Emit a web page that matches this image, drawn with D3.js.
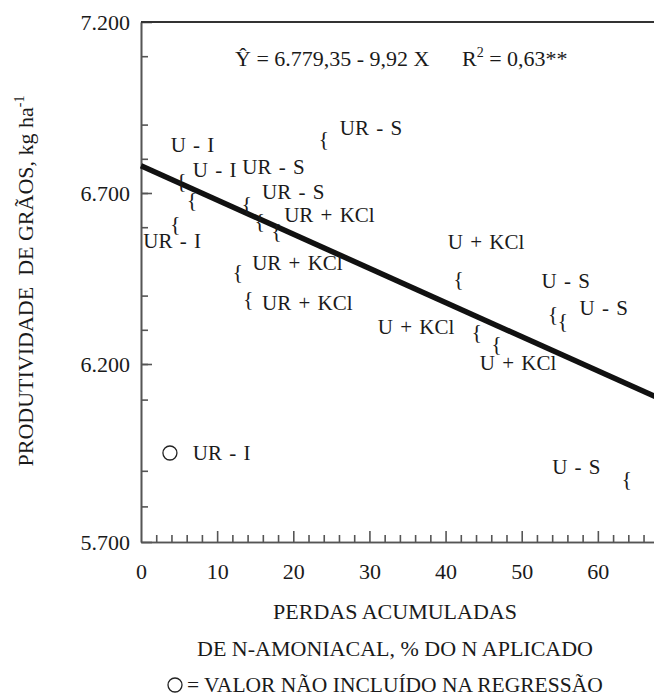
<!DOCTYPE html>
<html>
<head>
<meta charset="utf-8">
<script src="https://cdn.jsdelivr.net/npm/d3@7"></script>
<style>
body { margin: 0; background: #fff; }
svg text { font-family: 'Liberation Serif', 'Times New Roman', serif; fill: #1a1a1a; }
</style>
</head>
<body>
<svg width="654" height="696"></svg>
<script>
const svg = d3.select('svg').style('font-family', "'Liberation Serif', 'Times New Roman', serif");

// N losses (%) and grain yield (kg/ha) for each treatment
const pointX = [5.3, 6.7, 4.5, 13.9, 15.6, 17.8, 12.7, 14.1, 24.0, 41.7, 44.1, 46.7, 54.1, 55.4, 63.8];
const pointY = [6733, 6675, 6606, 6665, 6616, 6587, 6466, 6387, 6855, 6446, 6291, 6256, 6343, 6323, 5874];

// value left out of the regression
const outX = [3.8];
const outY = [5950];

// treatment labels (placed in data units)
const labelText = ['U - I', 'U - I', 'UR - I', 'UR - S', 'UR - S', 'UR + KCl', 'UR + KCl', 'UR + KCl',
    'UR - S', 'U + KCl', 'U + KCl', 'U + KCl', 'U - S', 'U - S', 'U - S', 'UR - I'];
const labelX = [3.9, 6.8, 0.3, 13.3, 15.9, 18.8, 14.6, 15.9, 26.1, 40.3, 31.1, 44.5, 52.6, 57.6, 54.0, 6.8];
const labelY = [6820, 6747, 6538, 6756, 6682, 6615, 6475, 6358, 6870, 6536, 6288, 6183, 6422, 6343, 5891, 5930];

const xTicks = [0, 10, 20, 30, 40, 50, 60];
const yTicks = [5700, 6200, 6700, 7200];
const intercept = 6779.35;
const slope = -9.92;

const x = d3.scaleLinear().domain([0, 70]).range([141, 674]);
// the scanned figure is a bit stretched at the bottom
const y = d3.scaleLinear().domain([5700, 6200, 7200]).range([542, 364, 22]);

const fmt = d3.formatLocale({decimal: ',', thousands: '.', grouping: [3], currency: ['', '']}).format(',');

const styleAxis = g => {
    g.attr('font-family', null).attr('font-size', 22);
    g.selectAll('path, line').attr('stroke', '#555').attr('stroke-width', 1.6);
    g.selectAll('text').attr('fill', '#1a1a1a');
};

// y axis: minor then major ticks
const yMinor = d3.range(5800, 7200, 100).filter(d => d % 500 !== 0);
svg.append('g').attr('transform', `translate(${x(0)},0)`)
    .call(d3.axisLeft(y).tickValues(yMinor).tickSize(-7).tickSizeOuter(0).tickFormat(''))
    .call(styleAxis);
svg.append('g').attr('transform', `translate(${x(0)},0)`)
    .call(d3.axisLeft(y).tickValues(yTicks).tickSize(-11).tickSizeOuter(0).tickPadding(11).tickFormat(fmt))
    .call(styleAxis);

// x axis
const xMinor = d3.range(2, 70, 2).filter(d => d % 10 !== 0);
svg.append('g').attr('transform', `translate(0,${y(5700)})`)
    .call(d3.axisBottom(x).tickValues(xMinor).tickSize(-7).tickSizeOuter(0).tickFormat(''))
    .call(styleAxis);
svg.append('g').attr('transform', `translate(0,${y(5700)})`)
    .call(d3.axisBottom(x).tickValues(xTicks).tickSize(-11).tickSizeOuter(0).tickPadding(21).tickFormat(d3.format('d')))
    .call(styleAxis)
    .call(g => g.select('.tick line').remove());

// top frame
svg.append('line')
    .attr('x1', x(0)).attr('x2', x(70))
    .attr('y1', y(7200)).attr('y2', y(7200))
    .attr('stroke', '#333').attr('stroke-width', 1.8);

// regression line
const line = d3.line().x(d => x(d)).y(d => y(intercept + slope * d));
svg.append('path')
    .datum([0, 70])
    .attr('d', line)
    .attr('fill', 'none')
    .attr('stroke', '#111')
    .attr('stroke-width', 5.5);

// brace markers
svg.selectAll('.pt')
    .data(pointX)
    .enter()
    .append('text')
    .attr('class', 'pt')
    .attr('x', d => x(d))
    .attr('y', (d, i) => y(pointY[i]))
    .attr('dy', '0.27em')
    .attr('text-anchor', 'middle')
    .attr('font-size', 22)
    .text('{');

svg.selectAll('.out')
    .data(outX)
    .enter()
    .append('circle')
    .attr('class', 'out')
    .attr('cx', d => x(d))
    .attr('cy', (d, i) => y(outY[i]))
    .attr('r', 7)
    .attr('fill', 'none')
    .attr('stroke', '#222')
    .attr('stroke-width', 1.3);

svg.selectAll('.lab')
    .data(labelText)
    .enter()
    .append('text')
    .attr('class', 'lab')
    .attr('x', (d, i) => x(labelX[i]))
    .attr('y', (d, i) => y(labelY[i]))
    .attr('font-size', 21)
    .attr('word-spacing', 2)
    .text(d => d);

// equation
const eq = svg.append('g').attr('font-size', 22);
eq.append('text').attr('x', 235).attr('y', 66).text('Ŷ = 6.779,35 - 9,92 X');
const r2 = eq.append('text').attr('x', 462).attr('y', 66);
r2.append('tspan').text('R');
r2.append('tspan').attr('font-size', 14).attr('dy', -9).text('2');
r2.append('tspan').attr('dy', 9).text(' = 0,63**');

// y title
const yt = svg.append('text')
    .attr('transform', 'translate(33,281) rotate(-90)')
    .attr('text-anchor', 'middle')
    .attr('font-size', 22)
    .style('white-space', 'pre');
yt.append('tspan').text('PRODUTIVIDADE  DE GRÃOS, kg ha');
yt.append('tspan').attr('font-size', 14).attr('dy', -9).text('-1');

// x title and note
svg.append('text').attr('x', 395).attr('y', 619).attr('text-anchor', 'middle')
    .attr('font-size', 22).text('PERDAS ACUMULADAS');
svg.append('text').attr('x', 395).attr('y', 656).attr('text-anchor', 'middle')
    .attr('font-size', 22).text('DE N-AMONIACAL, % DO N APLICADO');
svg.append('circle').attr('cx', 175).attr('cy', 685).attr('r', 7)
    .attr('fill', 'none').attr('stroke', '#222').attr('stroke-width', 1.3);
svg.append('text').attr('x', 187).attr('y', 692)
    .attr('font-size', 21.5).text('= VALOR NÃO INCLUÍDO NA REGRESSÃO');
</script>
</body>
</html>
